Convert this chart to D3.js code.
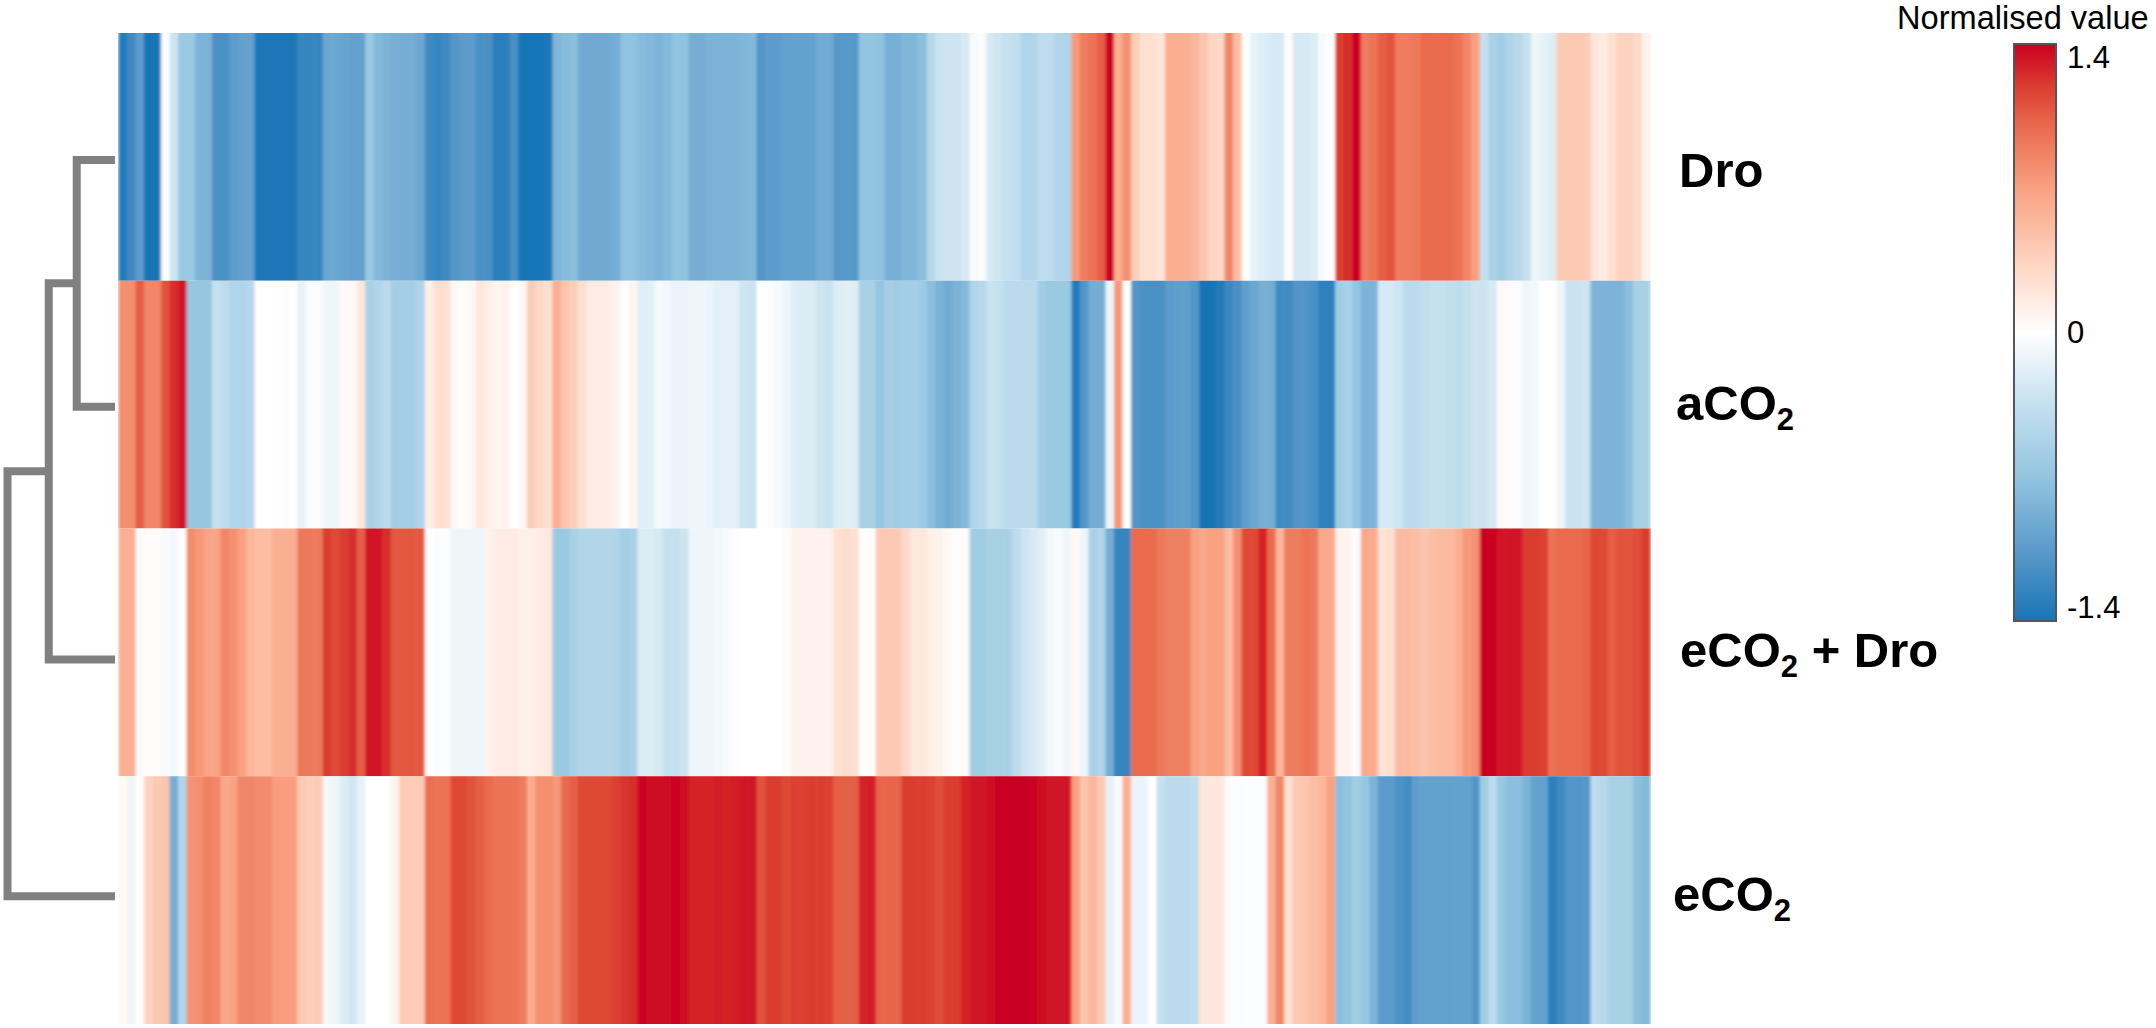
<!DOCTYPE html>
<html>
<head>
<meta charset="utf-8">
<script src="https://cdn.jsdelivr.net/npm/d3@7/dist/d3.min.js"></script>
<style>
  html, body { margin: 0; padding: 0; background: #fff; }
  svg { display: block; }
  text { font-family: "Liberation Sans", Arial, sans-serif; fill: #000; }
</style>
</head>
<body>
<div id="chart"></div>
<script>
// treatments, top to bottom
const treatments = ['Dro', 'aCO2', 'eCO2 + Dro', 'eCO2']

// normalised value of every feature, same feature order in each row
const dro = [
  -1.35,-1.2,-1.05,-1.4,-1.4,0,-.3,-.65,-.65,-.85,
  -.85,-1.15,-1.15,-1.05,-1,-1,-1.38,-1.38,-1.38,-1.38,
  -1.38,-1.25,-1.25,-1.25,-.95,-.95,-.98,-1,-1,-.65,
  -.8,-.85,-.88,-.9,-.9,-.95,-1.2,-1.25,-1.2,-1.1,
  -1.05,-1.05,-1.15,-1.15,-1.3,-1.3,-1.15,-1.4,-1.4,-1.4,
  -1.38,-.82,-.78,-.75,-.93,-.93,-.93,-.93,-.9,-.72,
  -.72,-.78,-.8,-.85,-.8,-.72,-.72,-.9,-.9,-.85,
  -.85,-.85,-.85,-.82,-.8,-1.1,-1.05,-1.05,-1,-1,
  -1,-1,-.92,-.92,-1.08,-1.08,-1.08,-.7,-.7,-.72,
  -.88,-.88,-.82,-.82,-.75,-.45,-.32,-.3,-.3,-.25,
  -.04,-.03,-.25,-.3,-.35,-.38,-.5,-.5,-.4,-.4,
  -.5,-.5,.75,.9,.95,1.05,1.38,.6,.8,.4,
  .25,.25,.2,.6,.6,.6,.55,.45,.32,.3,
  .85,.5,0,-.15,-.2,-.25,-.25,.02,-.25,-.25,
  -.22,-.05,0,1.2,1.25,1.4,.9,.95,1.05,1.1,
  .9,.9,.92,1,1,1,1,.95,.85,.7,
  -.35,-.55,-.6,-.5,-.45,-.35,-.1,-.15,-.2,.42,
  .42,.42,.4,.2,.15,.25,.35,.35,.3,.1
]
const aCO2 = [
  .8,.8,1.05,.85,.85,1.1,1.25,1.33,-.68,-.68,
  -.68,-.35,-.4,-.5,-.5,-.45,0,0,0,.02,
  0,-.15,-.03,-.03,-.1,-.1,.03,.05,.2,-.55,
  -.5,-.42,-.58,-.58,-.58,-.5,.12,.25,.25,.05,
  .03,.05,.2,.12,.08,.1,0,.05,.4,.3,
  .25,.6,.45,.38,.25,.15,.15,.15,.1,0,
  .08,-.2,-.18,-.06,-.08,-.12,-.12,-.1,-.1,-.12,
  -.17,-.17,-.17,-.3,-.32,0,-.02,-.06,-.1,-.2,
  -.22,-.22,-.3,-.33,-.2,-.18,-.2,-.55,-.55,-.7,
  -.58,-.6,-.58,-.58,-.62,-.75,-.85,-.92,-.85,-.8,
  -.5,-.45,-.33,-.35,-.42,-.42,-.42,-.42,-.6,-.65,
  -.65,-.65,-1.35,-1.1,-.9,-.9,-.1,.75,0,-1.1,
  -1.15,-1.15,-1.15,-1.05,-1.02,-1.02,-1.1,-1.4,-1.4,-1.35,
  -1.22,-1.15,-1.02,-.95,-.88,-.9,-1.2,-1.2,-1.1,-1.1,
  -1.15,-1.28,-1.28,-.6,-.55,-.7,-.85,-.85,-.25,-.25,
  -.3,-.42,-.42,-.38,-.35,-.35,-.38,-.4,-.35,-.3,
  -.3,-.25,.05,.03,-.03,-.1,-.08,0,0,-.1,
  -.32,-.32,-.3,-.85,-.85,-.85,-.85,-.75,-.55,-.55
]
const eCO2Dro = [
  .6,.6,-.05,.02,.03,-.05,-.08,0,.82,.75,
  .68,.68,.85,.8,.7,.55,.5,.5,.6,.6,
  .6,.92,.92,.92,1.2,1.15,1.2,1.25,1.05,1.33,
  1.33,1.25,1.08,1.08,1.08,1.08,0,-.02,-.02,-.1,
  -.1,-.1,-.1,.1,.15,.15,.15,.12,.12,.15,
  .18,-.65,-.65,-.55,-.48,-.48,-.48,-.48,-.5,-.58,
  -.55,-.22,-.22,-.25,-.35,-.35,-.3,-.1,-.1,-.1,
  -.08,-.05,-.02,0,0,0,0,0,.03,.1,
  .1,.1,.1,.1,.25,.27,.25,0,.02,.42,
  .42,.42,.3,.18,.18,.12,.1,.05,.02,.02,
  -.6,-.6,-.55,-.55,-.55,-.4,-.3,-.25,-.18,-.08,
  -.04,-.1,.05,-.1,-.55,-.5,-.9,-1.25,-1.25,1,
  1,1,.92,.88,.88,.88,.7,.65,.7,.7,
  .5,.8,1.15,1.15,1.28,1,.55,.9,.9,.95,
  .92,.65,.65,.1,.08,-.02,.65,.62,.22,.25,
  .52,.52,.5,.45,.5,.52,.52,.6,.75,.78,
  1.4,1.4,1.33,1.33,1.33,1.2,1.2,1.18,.95,1,
  1,1,1.02,1.15,1.15,1.05,1.1,1.1,1.12,1.2
]
const eCO2 = [
  .05,-.1,.02,.35,.42,.45,-.9,-.5,.78,.8,
  .88,.85,.65,.7,.85,.85,.82,.82,.72,.72,
  .72,.42,.38,.4,-.08,-.1,-.22,-.28,-.15,0,
  0,0,.1,.4,.4,.4,.98,.95,.95,1.15,
  1.15,1.1,1.05,1,.95,.95,.95,.9,.62,.8,
  .8,.75,1,1.05,1.15,1.15,1.15,1.15,1.18,1.22,
  1.25,1.38,1.36,1.35,1.37,1.38,1.36,1.28,1.28,1.28,
  1.3,1.28,1.3,1.32,1.32,1.1,1.2,1.2,1.15,1.18,
  1.18,1.2,1.2,1.18,1.05,1.05,1.05,1.28,1.3,1.02,
  1.02,1.02,1.2,1.2,1.2,1.18,1.12,1.2,1.2,1.28,
  1.32,1.32,1.36,1.4,1.4,1.4,1.4,1.4,1.35,1.33,
  1.33,1.33,.7,.45,.55,.42,-.15,-.05,.6,-.12,
  -.12,0,-.35,-.42,-.42,-.42,-.38,.2,.18,.2,
  -.03,-.03,-.02,-.03,-.03,.6,.85,.25,.42,.45,
  .5,.55,.7,-.75,-.7,-.6,-.68,-.85,-1.05,-1.05,
  -1.12,-1.18,-1.02,-1,-1,-1,-1,-1,-1,-1.1,
  -.6,-.4,-.65,-.75,-.75,-.85,-1,-1,-1.3,-1.2,
  -1.1,-1.1,-1.08,-.4,-.45,-.55,-.55,-.55,-.75,-.8
]
const rows = [dro, aCO2, eCO2Dro, eCO2]

// colour key
const colorStops = [-1.4, -1.05, -.7, -.35, 0, .35, .7, 1, 1.2, 1.4]
const colorRange = ['#1874b6', '#5c9bcb', '#93c5e0', '#c5e0ef', '#ffffff', '#fdd3bf', '#f9a181', '#e96a4e', '#da3c2e', '#ca0020']
const legendTicks = [1.4, 0, -1.4]
const legendTitle = 'Normalised value'

// cluster tree: merge height (0..1) of each node
const clusterTree = {
  height: 1,
  children: [
    { height: .616, children: [
      { height: .356, children: [{ name: 'Dro', height: 0 }, { name: 'aCO2', height: 0 }] },
      { name: 'eCO2 + Dro', height: 0 }
    ] },
    { name: 'eCO2', height: 0 }
  ]
}

const width = 2156
const height = 1028
const heat = { left: 118.5, right: 1650, top: 33, bottom: 1024 }
const legend = { left: 2014, right: 2056, top: 44, bottom: 621 }
const grey = '#808080'

const svg = d3.select('#chart').append('svg')
  .attr('width', width)
  .attr('height', height)

const x = d3.scaleBand().domain(d3.range(dro.length)).range([heat.left, heat.right])
const y = d3.scaleBand().domain(treatments).range([heat.top, heat.bottom])
const color = d3.scaleLinear().domain(colorStops).range(colorRange).clamp(true)

const defs = svg.append('defs')

// the source image is slightly smoothed along the rows only
const smooth = defs.append('filter')
  .attr('id', 'smooth')
  .attr('x', 0).attr('y', 0).attr('width', 1).attr('height', 1)
smooth.append('feGaussianBlur')
  .attr('stdDeviation', '1.6 0')
  .attr('edgeMode', 'duplicate')

// heatmap
const rowGroups = svg.append('g').selectAll('g')
  .data(rows)
  .join('g')
  .attr('filter', 'url(#smooth)')

rowGroups.selectAll('rect')
  .data((d, i) => d.map((v, j) => ({ v, j, name: treatments[i] })))
  .join('rect')
  .attr('x', d => x(d.j))
  .attr('y', d => y(d.name))
  .attr('width', x.bandwidth() + .6)
  .attr('height', y.bandwidth())
  .attr('fill', d => color(d.v))

// dendrogram
const leafShift = { 'Dro': 3, 'aCO2': 2, 'eCO2 + Dro': 7, 'eCO2': -4 }
const treeX = d3.scaleLinear().domain([0, 1]).range([115, 7.5])
const root = d3.hierarchy(clusterTree)
root.eachAfter(n => {
  n.py = n.children
    ? d3.mean(n.children, c => c.py)
    : y(n.data.name) + y.bandwidth() / 2 + leafShift[n.data.name]
})
svg.append('g').selectAll('path')
  .data(root.descendants().filter(n => n.children))
  .join('path')
  .attr('fill', 'none')
  .attr('stroke', grey)
  .attr('stroke-width', 8)
  .attr('d', n => {
    const [a, b] = n.children
    const px = treeX(n.data.height)
    return `M${treeX(a.data.height)},${a.py}H${px}V${b.py}H${treeX(b.data.height)}`
  })

// row labels, CO2 gets a real subscript
const labelPos = {
  'Dro': [1679, 187],
  'aCO2': [1676, 420],
  'eCO2 + Dro': [1680, 667],
  'eCO2': [1673, 911]
}
const labels = svg.append('g').selectAll('text')
  .data(treatments)
  .join('text')
  .attr('x', d => labelPos[d][0])
  .attr('y', d => labelPos[d][1])
  .attr('font-size', 49)
  .attr('font-weight', 'bold')
labels.each(function (d) {
  const t = d3.select(this)
  const parts = d.split('2')
  t.append('tspan').text(parts[0])
  if (parts.length > 1) {
    t.append('tspan').attr('font-size', 31).attr('dy', 10).text('2')
    if (parts[1]) t.append('tspan').attr('dy', -10).text(parts[1])
  }
})

// colour key
const gradient = defs.append('linearGradient')
  .attr('id', 'key')
  .attr('x1', 0).attr('y1', 1).attr('x2', 0).attr('y2', 0)
gradient.selectAll('stop')
  .data(colorStops)
  .join('stop')
  .attr('offset', d => (d - colorStops[0]) / (colorStops[colorStops.length - 1] - colorStops[0]))
  .attr('stop-color', d => color(d))

svg.append('rect')
  .attr('x', legend.left)
  .attr('y', legend.top)
  .attr('width', legend.right - legend.left)
  .attr('height', legend.bottom - legend.top)
  .attr('fill', 'url(#key)')
  .attr('stroke', '#55565a')
  .attr('stroke-width', 2)

svg.append('text')
  .attr('x', 1897)
  .attr('y', 29)
  .attr('font-size', 32.6)
  .text(legendTitle)

// tick labels sit inside the ends of the bar
const legendScale = d3.scaleLinear().domain([-1.4, 1.4]).range([608, 58])
const legendAxis = svg.append('g')
  .attr('transform', `translate(${legend.right},0)`)
  .call(d3.axisRight(legendScale)
    .tickValues(legendTicks)
    .tickSize(0)
    .tickPadding(11)
    .tickFormat(d => String(d)))
legendAxis.select('.domain').remove()
legendAxis.selectAll('text')
  .attr('font-size', 31)
  .attr('font-family', '"Liberation Sans", Arial, sans-serif')
  .attr('fill', '#000')
</script>
</body>
</html>
